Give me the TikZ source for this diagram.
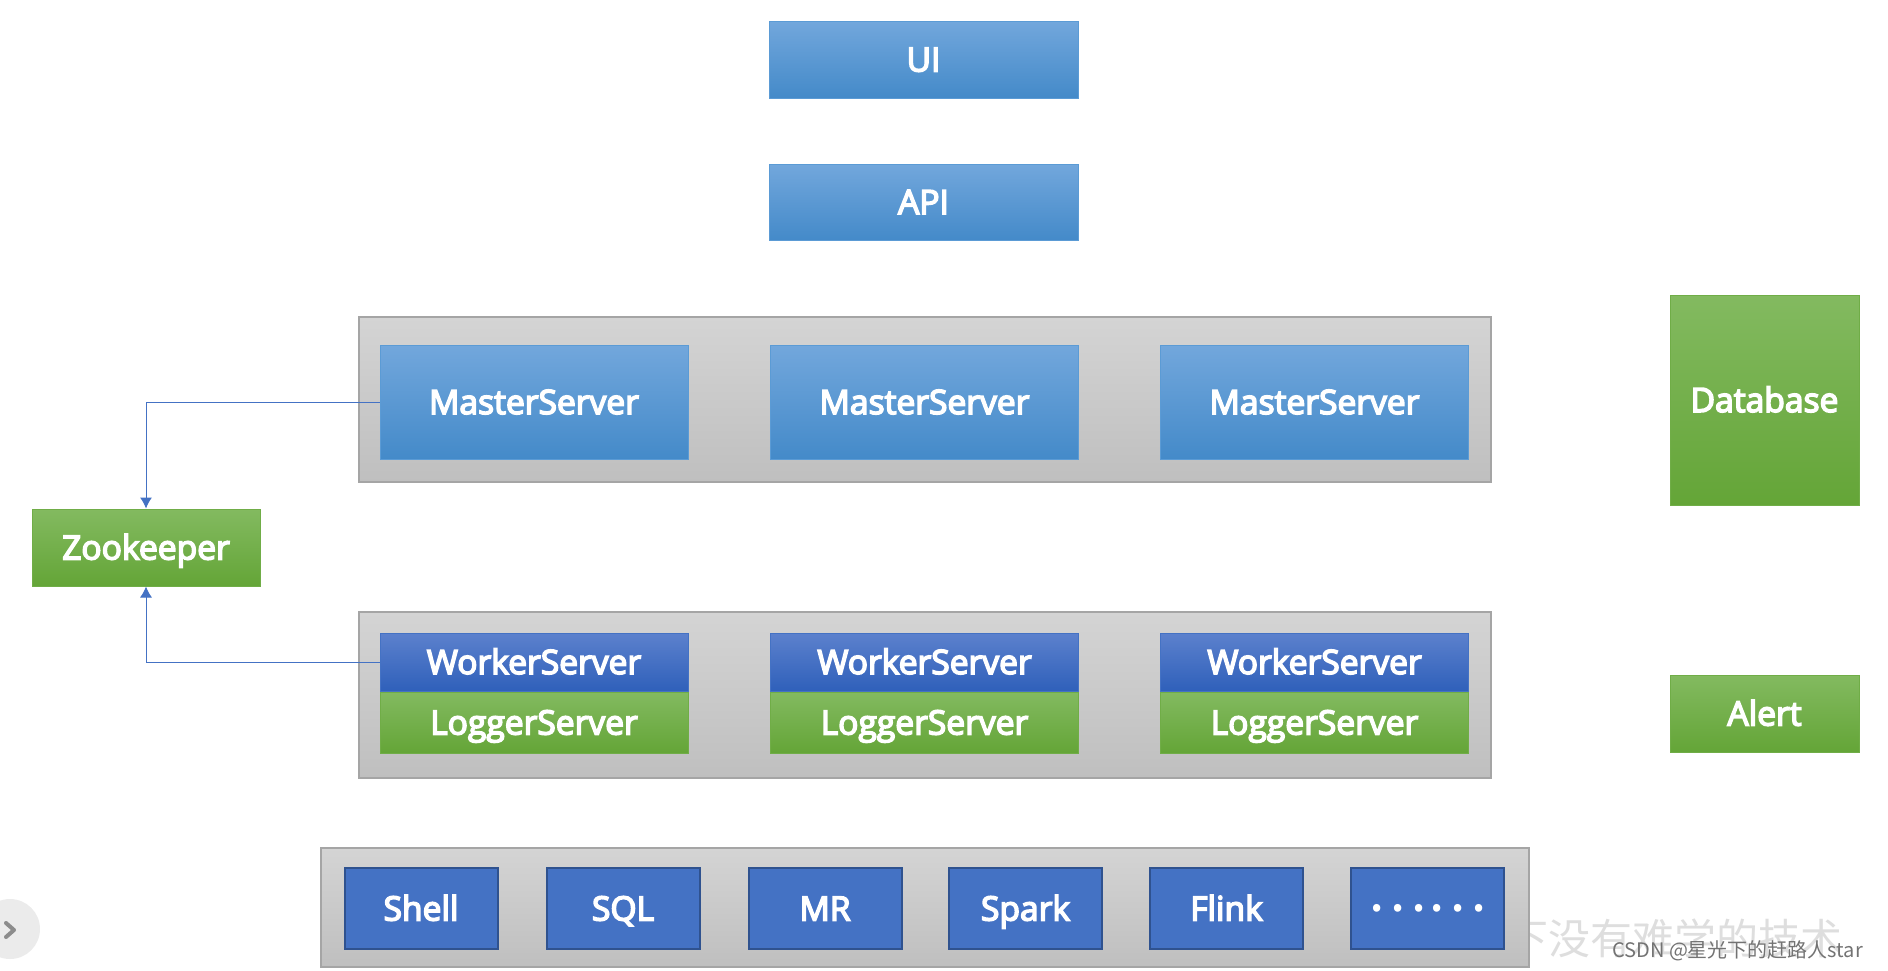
\documentclass[tikz,border=0pt]{standalone}
\usepackage{fontspec}
\setmainfont{Open Sans}
\newfontfamily\boxfont{Open Sans}[FakeBold=4.5]
\newfontfamily\cjk{Noto Sans CJK SC}
\usetikzlibrary{arrows.meta,positioning}

\definecolor{bluetop}{RGB}{114,167,220}
\definecolor{bluebot}{RGB}{68,138,201}
\definecolor{blueline}{RGB}{91,155,213}
\definecolor{worktop}{RGB}{92,129,205}
\definecolor{workbot}{RGB}{47,96,186}
\definecolor{workline}{RGB}{68,114,196}
\definecolor{greentop}{RGB}{131,186,96}
\definecolor{greenbot}{RGB}{100,165,55}
\definecolor{greenline}{RGB}{112,173,71}
\definecolor{taskfill}{RGB}{68,114,196}
\definecolor{taskline}{RGB}{47,82,143}
\definecolor{grouptop}{RGB}{212,212,212}
\definecolor{groupbot}{RGB}{191,191,191}
\definecolor{groupline}{RGB}{165,165,165}
\definecolor{linkblue}{RGB}{68,114,196}

\begin{document}
\begin{tikzpicture}[x=0.5pt,y=-0.5pt,
  box/.style={draw,inner sep=0pt,line width=0.5pt,text=white,text height=12pt,text depth=0pt,font=\boxfont\fontsize{16.8}{20}\selectfont},
  bluebox/.style={box,draw=blueline,top color=bluetop,bottom color=bluebot},
  workbox/.style={box,draw=workline,top color=worktop,bottom color=workbot},
  greenbox/.style={box,draw=greenline,top color=greentop,bottom color=greenbot},
  taskbox/.style={box,draw=taskline,fill=taskfill,line width=1pt,minimum width=76.5pt,minimum height=40.5pt},
  group/.style={draw=groupline,line width=0.6pt,top color=grouptop,bottom color=groupbot,inner sep=0pt},
  link/.style={draw=linkblue,line width=0.5pt,-{Latex[length=5.5pt,width=6pt]}}]

  \useasboundingbox (0,0) rectangle (1888,970);

  % watermark, partly under the task group
  \node[anchor=east,text=black!13,font=\cjk\fontsize{21}{21}\selectfont] (mark) at (1850,938) {让天下没有难学的技术};

  % groups
  \node[group,minimum width=566pt,minimum height=82.5pt] (mcont) at (925,399.5) {};
  \node[group,minimum width=566pt,minimum height=83pt] (wcont) at (925,695) {};
  \node[group,minimum width=604pt,minimum height=59.5pt] (tcont) at (925,907.5) {};

  \node[bluebox,minimum width=154.5pt,minimum height=38.5pt] (ui) at (923.5,59.5) {UI};
  \node[bluebox,minimum width=154.5pt,minimum height=38pt] (api) at (923.5,202) {API};

  \node[bluebox,minimum width=154pt,minimum height=57pt] (ms1) at (534,402) {MasterServer};
  \node[bluebox,minimum width=154pt,minimum height=57pt] (ms2) at (924.5,402) {MasterServer};
  \node[bluebox,minimum width=154pt,minimum height=57pt] (ms3) at (1314.5,402) {MasterServer};

  \node[workbox,minimum width=154pt,minimum height=29pt] (ws1) at (534,662) {WorkerServer};
  \node[workbox,minimum width=154pt,minimum height=29pt] (ws2) at (924.5,662) {WorkerServer};
  \node[workbox,minimum width=154pt,minimum height=29pt] (ws3) at (1314.5,662) {WorkerServer};
  \node[greenbox,minimum width=154pt,minimum height=30.5pt,below=0pt of ws1] (ls1) {LoggerServer};
  \node[greenbox,minimum width=154pt,minimum height=30.5pt,below=0pt of ws2] (ls2) {LoggerServer};
  \node[greenbox,minimum width=154pt,minimum height=30.5pt,below=0pt of ws3] (ls3) {LoggerServer};

  \node[greenbox,minimum width=114pt,minimum height=38.5pt] (zk) at (146,547.5) {Zookeeper};
  \node[greenbox,minimum width=94.5pt,minimum height=105pt] (db) at (1764.5,400) {Database};
  \node[greenbox,minimum width=94.5pt,minimum height=38.5pt] (alert) at (1764.5,713.5) {Alert};

  \node[taskbox] (shell) at (421,908.5) {Shell};
  \node[taskbox] (sql) at (623,908.5) {SQL};
  \node[taskbox] (mr) at (825,908.5) {MR};
  \node[taskbox] (spark) at (1025.5,908.5) {Spark};
  \node[taskbox] (flink) at (1226.5,908.5) {Flink};
  \node[taskbox,text height=,text depth=,font=\cjk\fontsize{28}{28}\selectfont] (more) at (1427,908.5) {……};

  \draw[link] (ms1.west) -| (zk.north);
  \draw[link] (ws1.west) -| (zk.south);

  \node[anchor=base east,text=black!55,font=\cjk\fontsize{10}{10}\selectfont] (csdn) at (1870,957) {CSDN @星光下的赶路人star};

  % page button at the left edge
  \fill[black!8] (10,929) circle (15pt);
  \draw[black!45,line width=2pt,line cap=round,line join=round] (6,923) -- (14,930) -- (6,937);

\end{tikzpicture}
\end{document}
